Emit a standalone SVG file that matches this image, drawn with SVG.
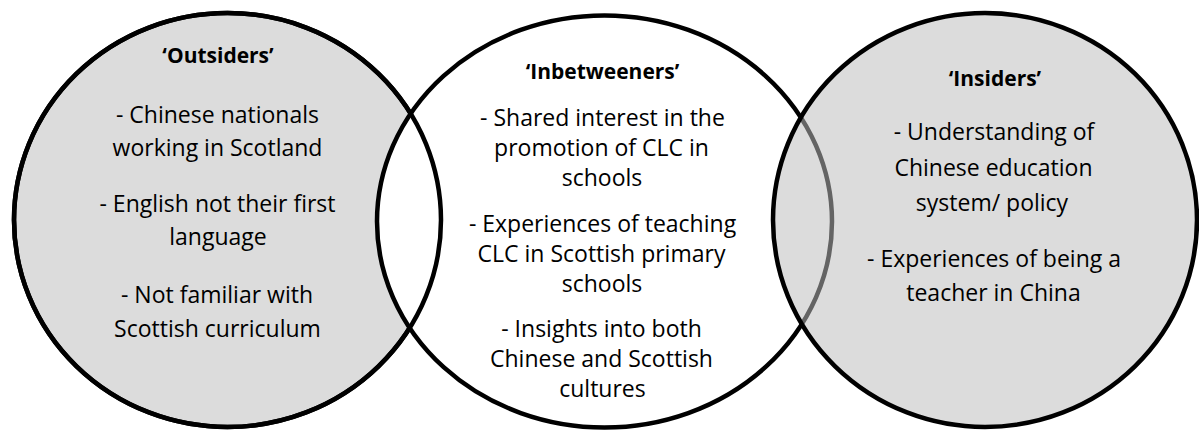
<svg xmlns="http://www.w3.org/2000/svg" width="1199" height="433" viewBox="0 0 1199 433">
<style>
.ring{stroke:#000;stroke-width:4.5}
.t{font-family:"Open Sans","Noto Sans",sans-serif;font-size:23px;fill:#000;text-anchor:middle}
.h{font-weight:bold;font-size:21px}
</style>
<rect width="1199" height="433" fill="#fff"/>
<g id="outsiders">
<ellipse class="ring" cx="227.5" cy="220" rx="213.5" ry="207" fill="#dcdcdc"/>
</g>
<g id="inbetweeners">
<ellipse class="ring" cx="604.5" cy="221.5" rx="227.5" ry="206" fill="#fff"/>
</g>
<g id="outline-overlap">
<ellipse class="ring" cx="227.5" cy="220" rx="213.5" ry="207" fill="none"/>
</g>
<g id="insiders">
<ellipse class="ring" cx="985" cy="220" rx="212" ry="207" fill="#bdbdbd" fill-opacity="0.53"/>
</g>
<g id="outsiders-text">
<text class="t h" x="218" y="63">‘Outsiders’</text>
<text class="t" x="217.5" y="123">- Chinese nationals</text>
<text class="t" x="217.5" y="156">working in Scotland</text>
<text class="t" x="217.5" y="212">- English not their first</text>
<text class="t" x="218" y="245">language</text>
<text class="t" x="217" y="303">- Not familiar with</text>
<text class="t" x="217.5" y="337">Scottish curriculum</text>
</g>
<g id="inbetweeners-text">
<text class="t h" x="602.5" y="79">‘Inbetweeners’</text>
<text class="t" x="602.5" y="126">- Shared interest in the</text>
<text class="t" x="601.5" y="156">promotion of CLC in</text>
<text class="t" x="602" y="186">schools</text>
<text class="t" x="602.5" y="232">- Experiences of teaching</text>
<text class="t" x="601.5" y="262">CLC in Scottish primary</text>
<text class="t" x="602" y="292">schools</text>
<text class="t" x="601.5" y="337">- Insights into both</text>
<text class="t" x="601.5" y="367">Chinese and Scottish</text>
<text class="t" x="602.5" y="397">cultures</text>
</g>
<g id="insiders-text">
<text class="t h" x="995" y="86">‘Insiders’</text>
<text class="t" x="994" y="140">- Understanding of</text>
<text class="t" x="993.5" y="176">Chinese education</text>
<text class="t" x="992" y="211">system/ policy</text>
<text class="t" x="994" y="267">- Experiences of being a</text>
<text class="t" x="993.5" y="301">teacher in China</text>
</g>
<g id="connectors"></g>
</svg>
